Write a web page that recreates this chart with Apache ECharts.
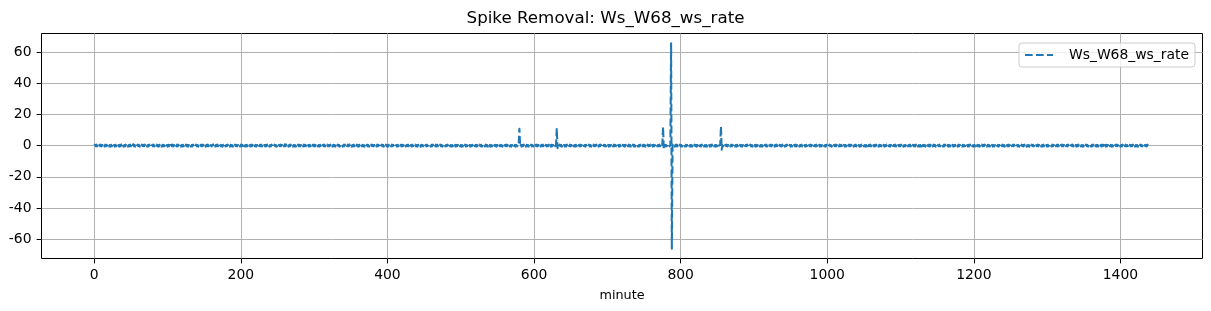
<!DOCTYPE html>
<html><head><meta charset="utf-8">
<script src="https://cdn.jsdelivr.net/npm/echarts@6/dist/echarts.min.js"></script>
<style>html,body{margin:0;padding:0;background:#fff}#c{width:1211px;height:311px}</style>
</head><body><div id="c"></div>
<script>
const titleText = 'Spike Removal: Ws_W68_ws_rate';
const seriesName = 'Ws_W68_ws_rate';
const xLabel = 'minute';
const xRange = [-72, 1512];
const yRange = [-72.3, 71.8];
const xTicks = [0, 200, 400, 600, 800, 1000, 1200, 1400];
const yTicks = [-60, -40, -20, 0, 20, 40, 60];
// one value per minute (0..1439)
const wsRate = [
0,.5,-.4,.6,-.5,.4,-.6,.5,-.3,.6,-.5,.4,-.6,.3,-.5,.6,-.4,.5,-.6,.4,-.5,.3,-.6,.5,-.4,.8,-.5,.4,-.6,.5,
-.4,.6,-.5,.3,-.6,.5,-.4,.7,-.5,.4,-.6,.3,-.5,.6,-.4,.5,-.6,.4,-.3,.6,-.5,.4,-.6,.9,-.4,.5,-.6,.3,-.5,.6,
-.3,.5,-.6,.4,-.5,.6,-.3,.5,-.4,.6,-.5,.3,-.6,.4,-.5,.6,-.4,.3,-.6,.5,-.4,.6,-.5,.3,-.4,.6,-.5,.4,-.6,.5,
-.4,.3,-.6,.5,-.5,.4,-.3,.6,-.5,.4,-.6,.5,-.3,.4,-.6,.5,-.4,.6,-.5,.3,-.6,.4,-.5,.7,-.4,.5,-.6,.3,-.5,.4,
-.6,.5,-.4,.3,-.5,.6,-.4,.5,-.6,.4,-.3,.5,-.6,.4,-.5,.6,-.3,.5,-.4,.6,-.5,.4,-.6,.3,-.5,.5,-.4,.6,-.3,.5,
-.5,.4,-.6,.5,-.3,.6,-.4,.5,-.6,.4,-.5,.3,.8,-.5,.4,-.6,.5,-.3,.6,-.4,.5,-.6,.4,-.5,.3,-.6,.5,-.4,.6,-.5,
.4,-.3,.6,-.5,.4,-.6,.5,-.4,.3,-.6,.5,-.4,.6,-.3,.5,-.5,.4,-.6,.3,-.5,.6,-.4,.5,-.3,.6,-.5,.4,-.6,.5,-.4,
.6,-.4,.3,-.5,.6,-.4,.5,-.6,.4,-.3,.5,-.6,.4,-.5,.6,-.3,.5,-.4,.6,-.5,.3,-.6,.4,-.5,.5,-.4,.6,-.3,.5,-.6,
.4,-.5,.6,-.3,.5,-.4,.6,-.5,.3,-.6,.4,-.5,.5,-.4,.6,-.3,.5,-.6,.4,-.5,.9,-.4,.6,-.5,.3,-.6,.5,-.4,.6,-.3,
.5,-.6,.4,-.5,.3,-.6,.5,-.4,.6,-.3,.5,-.5,.4,-.6,.3,-.5,.6,-.4,.5,-.3,.6,-.5,.4,-.6,.5,-.4,.3,-.6,.5,-.4,
.6,-.5,.3,-.4,.6,-.5,.4,-.6,.5,-.3,.4,-.6,.5,-.4,.6,-.5,.3,-.4,.6,-.5,.4,-.3,.6,-.5,.4,-.6,.5,-.3,.4,-.6,
.5,-.4,.6,-.3,.5,-.6,.4,-.5,.3,-.6,.5,-.4,.6,-.5,.4,-.3,.6,-.5,.7,-.4,.5,-.6,.3,-.5,.6,-.4,.5,-.3,.6,-.5,
.4,-.6,.5,-.3,.6,-.4,.5,-.5,.3,-.6,.4,-.5,.6,-.4,.3,-.6,.5,-.4,.6,-.3,.5,-.5,.4,-.6,.3,-.5,.6,-.4,.5,-.6,
.3,-.5,.6,-.4,.5,-.6,.4,-.3,.6,-.5,.4,-.6,.5,-.3,.4,-.5,.6,-.4,.5,-.6,.3,-.5,.4,-.6,.5,-.4,.6,-.3,.5,-.5,
.6,-.4,.3,-.6,.5,-.5,.4,-.3,.6,-.4,.5,-.6,.3,-.5,.6,-.4,.5,-.3,.6,-.5,.4,-.6,.5,-.4,.3,-.6,.5,-.5,.4,-.3,
.5,-.6,.4,-.5,.6,-.3,.5,-.4,.3,-.6,.5,-.4,.6,-.5,.4,-.3,.6,-.6,.5,-.4,.3,-.5,.6,-.4,.5,-.6,.4,-.3,.6,-.5,
.4,-.3,.6,-.5,.5,-.4,.3,-.6,.4,-.5,.6,-.3,.5,-.6,.4,-.4,.5,-.3,.6,-.5,.4,-.6,.3,-.5,.5,-.4,.6,-.6,.4,-.3,
.6,-.5,.4,-.6,.3,-.4,.5,-.5,.6,-.3,.4,-.6,.5,-.4,.3,-.5,.6,-.4,.5,-.6,.4,-.3,.5,-.5,.6,-.4,.3,-.6,.5,-.4,
.5,-.6,.3,-.4,.6,-.5,.4,-.3,.5,-.6,.4,-.5,.6,-.3,.5,-.4,.3,-.6,.5,-.5,.4,-.3,.6,-.4,.5,-.6,.3,-.5,.4,-.6,
.4,-.5,.6,-.3,.5,-.6,.4,-.4,.5,.3,10.8,-.3,.5,-.6,.4,-.3,.6,-.5,.4,-.6,.5,-.4,.3,-.6,.5,-.4,.6,-.5,.3,-.5,
.6,-.4,.5,-.3,.6,-.5,.4,-.6,.3,-.5,.5,-.4,.6,-.3,.4,-.6,.5,-.5,.3,-.4,.6,-.5,.4,-.6,.5,-.3,.4,-.6,.5,-.4,
.5,11.2,-1.7,.4,-.5,.6,-.3,.5,-.6,.4,-.4,.5,-.6,.3,-.5,.6,-.4,.5,-.3,.6,-.5,.4,-.6,.5,-.4,.3,-.6,.5,-.4,.6,
-.5,.3,-.4,.6,-.5,.4,-.6,.5,-.3,.4,-.6,.5,-.5,.3,-.4,.6,-.5,.4,-.6,.3,-.5,.6,-.4,.5,-.3,.6,-.5,.4,-.6,.5,
-.4,.6,-.5,.3,-.6,.5,-.4,.4,-.5,.6,-.3,.5,-.6,.4,-.4,.5,-.6,.3,-.5,.6,-.4,.5,-.3,.6,-.5,.4,-.6,.5,-.4,.3,
-.6,.5,-.3,.4,-.6,.5,-.5,.4,-.3,.6,-.5,.4,-.6,.3,-.5,.6,-.4,.5,-.6,.4,-.3,.5,-.6,.4,-.5,.6,-.3,.5,-.4,.6,
-.5,.4,-.6,.3,-.5,.6,-.4,.5,-.3,.6,-.5,.4,-.6,.5,-.4,.3,-.6,.5,-.5,.4,-.3,.6,-.5,.4,-.6,.3,12,-2.1,.4,-.5,
.5,-.4,.6,-.3,.5,-.5,.4,65.5,-66,.5,-.4,.3,-.6,.5,-.4,.6,-.5,.3,-.4,.6,-.5,.4,-.6,.5,-.3,.4,-.6,.5,-.5,.4,
-.3,.6,-.5,.4,-.6,.3,-.5,.5,-.4,.6,-.3,.5,-.6,.4,-.5,.6,-.4,.3,-.5,.6,-.4,.5,-.6,.3,-.5,.4,-.6,.5,-.4,.3,
-.6,.5,-.4,.6,-.3,.5,-.5,.4,-.6,.3,-.4,.6,-.5,.5,.4,12.4,-2.6,.3,-.5,.6,-.4,.5,-.3,.6,-.5,.4,-.6,.3,-.5,.6,
-.4,.5,-.6,.3,-.5,.4,-.6,.5,-.3,.6,-.4,.5,-.5,.3,-.6,.4,-.5,.6,-.3,.5,-.4,.6,-.5,.4,-.3,.6,-.5,.4,-.6,.5,
-.3,.4,-.6,.5,-.5,.3,-.4,.6,-.5,.4,-.6,.3,-.5,.6,-.4,.5,-.3,.6,-.6,.4,-.5,.3,-.4,.6,-.5,.5,-.3,.4,-.6,.5,
-.5,.6,-.3,.4,-.6,.5,-.4,.3,-.5,.6,-.4,.5,-.6,.3,-.4,.6,-.5,.4,-.3,.5,-.6,.4,-.5,.6,-.3,.5,-.4,.6,-.5,.3,
-.4,.5,-.6,.4,-.3,.6,-.5,.5,-.4,.3,-.6,.5,-.4,.6,-.5,.3,-.4,.6,-.5,.4,-.6,.5,-.3,.4,-.5,.6,-.4,.3,-.6,.5,
-.6,.4,-.5,.3,-.4,.6,-.5,.4,-.6,.5,-.3,.4,-.5,.6,-.4,.3,-.6,.5,-.5,.4,-.3,.6,-.4,.5,-.6,.3,-.5,.6,-.4,.5,
-.3,.6,-.4,.5,-.6,.4,-.5,.3,-.6,.5,-.4,.6,-.3,.5,-.5,.4,-.6,.3,-.4,.6,-.5,.5,-.4,.3,-.6,.4,-.5,.6,-.3,.5,
-.5,.3,-.6,.4,-.5,.6,-.4,.5,-.3,.6,-.5,.4,-.6,.3,-.5,.5,-.4,.6,-.3,.4,-.6,.5,-.5,.4,-.3,.6,-.4,.5,-.6,.3,
-.4,.6,-.5,.3,-.4,.5,-.6,.4,-.5,.6,-.3,.5,-.4,.6,-.5,.3,-.6,.4,-.5,.5,-.3,.6,-.4,.5,-.6,.4,-.5,.3,-.6,.5,
-.5,.4,-.3,.6,-.5,.4,-.6,.5,-.4,.3,-.5,.6,-.4,.5,-.6,.3,-.5,.4,-.6,.6,-.4,.5,-.3,.4,-.6,.5,-.5,.3,-.4,.6,
-.6,.5,-.4,.3,-.5,.6,-.3,.5,-.6,.4,-.5,.3,-.4,.6,-.5,.5,-.3,.4,-.6,.5,-.4,.6,-.5,.3,-.4,.5,-.6,.4,-.5,.6,
-.3,.5,-.6,.4,-.4,.5,-.5,.3,-.6,.6,-.4,.5,-.3,.4,-.6,.5,-.5,.3,-.4,.6,-.5,.4,-.6,.5,-.3,.6,-.4,.5,-.5,.3,
-.6,.4,-.5,.6,-.3,.5,-.4,.4,-.6,.3,-.5,.6,-.4,.5,-.3,.6,-.5,.4,-.6,.5,-.4,.3,-.5,.6,-.4,.5,-.6,.3,-.5,.4,
-.4,.6,-.3,.5,-.6,.4,-.5,.5,-.3,.6,-.4,.4,-.6,.5,-.5,.3,-.4,.6,-.5,.4,-.6,.5,-.3,.5,-.4,.6,-.5,.3,-.6,.4,
-.5,.3,-.6,.5,-.4,.6,-.3,.4,-.5,.6,-.4,.5,-.6,.3,-.5,.4,-.6,.5,-.4,.6,-.3,.5,-.5,.4,-.6,.3,-.4,.6,-.5,.5,
-.4,.5,-.6,.3,-.5,.6,-.4,.5,-.3,.4,-.6,.5,-.5,.6,-.4,.3,-.5,.6,-.4,.5,-.6,.4,-.3,.5,-.5,.6,-.4,.3,-.6,.5,
-.3,.6,-.5,.4,-.6,.3,-.4,.5,-.5,.6,-.3,.4,-.6,.5,-.4,.6,-.5,.3,-.5,.4,-.6,.5,-.4,.6,-.3,.5,-.5,.4,-.6,.3,
-.5,.4,-.4,.6,-.3,.5,-.6,.4,-.5,.3,-.6,.5,-.4,.6,-.5,.4,-.3,.5,-.6,.4,-.5,.6,-.4,.3,-.5,.6,-.4,.5,-.6,.4,
-.6,.5,-.3,.4,-.5,.6,-.4,.5,-.6,.3,-.5,.4,-.6,.5,-.3,.6,-.4,.5,-.5,.3,-.6,.4,-.5,.6,-.4,.5,-.3,.6,-.5,.4,
-.4,.3,-.6,.5,-.5,.4,-.3,.6,-.4,.5,-.6,.4,-.5,.3,-.6,.5,-.4,.6,-.3,.5,-.5,.4,-.6,.3,-.4,.5,-.5,.6,-.3,0
];
const minutes = wsRate.map((v, i) => i);

const FONT = 'DejaVu Sans';
const BLUE = '#1f77b4';
const chart = echarts.init(document.getElementById('c'), null, {renderer: 'canvas'});
chart.setOption({
  animation: false,
  backgroundColor: '#fff',
  title: {
    text: titleText, left: 'center', top: 5,
    textStyle: {fontFamily: FONT, fontSize: 16.7, fontWeight: 'normal', color: '#000'}
  },
  legend: {
    right: 16, top: 43,
    data: [{name: seriesName, icon: 'path://M0,0h7.7v2.1h-7.7z M11,0h7.7v2.1h-7.7z M22,0h6v2.1h-6z'}],
    itemWidth: 28, itemHeight: 2.1,
    padding: [5, 6, 5, 6],
    borderColor: '#cccccc', borderWidth: 1, borderRadius: 3,
    backgroundColor: 'rgba(255,255,255,0.8)',
    itemStyle: {color: BLUE},
    textStyle: {fontFamily: FONT, fontSize: 13.9, color: '#000', padding: [0, 0, 0, 11]}
  },
  grid: {
    left: 41.5, right: 8.5, top: 33.5, bottom: 52.5,
    show: true, borderColor: '#000', borderWidth: 1, backgroundColor: 'transparent'
  },
  xAxis: {
    type: 'value', min: xRange[0], max: xRange[1],
    minInterval: 200, maxInterval: 200,
    name: xLabel, nameLocation: 'middle', nameGap: 31,
    nameTextStyle: {fontFamily: FONT, fontSize: 12.8, color: '#000'},
    axisLine: {show: false, onZero: false},
    axisTick: {show: true, length: 4.9, customValues: xTicks, lineStyle: {color: '#000', width: 1}},
    axisLabel: {fontFamily: FONT, fontSize: 13.9, color: '#000', margin: 10,
      customValues: xTicks, formatter: v => String(v)},
    splitLine: {show: true, lineStyle: {color: '#b0b0b0', width: 1}}
  },
  yAxis: {
    type: 'value', min: yRange[0], max: yRange[1],
    minInterval: 20, maxInterval: 20,
    axisLine: {show: false, onZero: false},
    axisTick: {show: true, length: 4.9, customValues: yTicks, lineStyle: {color: '#000', width: 1}},
    axisLabel: {fontFamily: FONT, fontSize: 13.9, color: '#000', margin: 10,
      customValues: yTicks, formatter: v => String(v)},
    splitLine: {show: true, lineStyle: {color: '#b0b0b0', width: 1}}
  },
  series: [{
    // one continuous dashed polyline through every minute, positioned by the axes
    name: seriesName, type: 'custom',
    data: minutes.map((m, i) => [m, wsRate[i]]),
    itemStyle: {color: BLUE},
    renderItem: function (params, api) {
      if (params.dataIndex !== 0) return null;
      const pts = minutes.map((m, i) => api.coord([m, wsRate[i]]));
      return {
        type: 'polyline',
        shape: {points: pts},
        style: {fill: null, stroke: BLUE, lineWidth: 2.08, lineDash: [7.7, 3.3], lineJoin: 'round', lineCap: 'butt'},
        z2: 10
      };
    }
  }]
});
</script></body></html>
